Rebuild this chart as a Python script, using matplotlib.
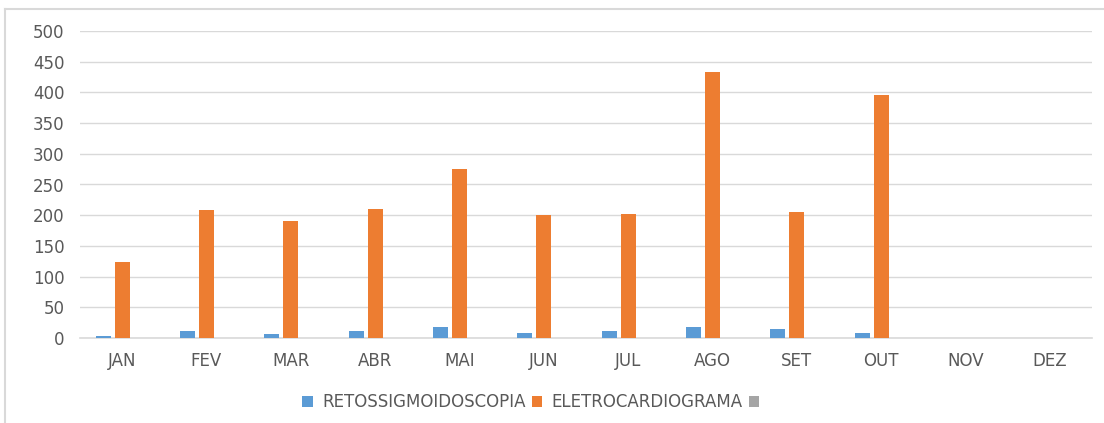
import matplotlib
matplotlib.use("Agg")
import matplotlib.pyplot as plt
import numpy as np
from matplotlib.lines import Line2D

months = ["JAN", "FEV", "MAR", "ABR", "MAI", "JUN", "JUL", "AGO", "SET", "OUT", "NOV", "DEZ"]
retossigmoidoscopia = [3, 11, 6, 11, 18, 8, 11, 18, 14, 8, 0, 0]
eletrocardiograma = [123, 208, 190, 210, 276, 200, 202, 433, 206, 395, 0, 0]
terceira = [0, 0, 0, 0, 0, 0, 0, 0, 0, 0, 0, 0]
series_labels = ["RETOSSIGMOIDOSCOPIA", "ELETROCARDIOGRAMA", " "]
colors = ["#5B9BD5", "#ED7D31", "#A5A5A5"]

plt.rcParams['font.family'] = ['DejaVu Sans']
W, H = 1104, 423
fig = plt.figure(figsize=(W / 100, H / 100), dpi=100)
fig.lines.append(Line2D([5.5 / W, 1.0], [1 - 9 / H, 1 - 9 / H], transform=fig.transFigure,
                        color="#d9d9d9", linewidth=1.5))
fig.lines.append(Line2D([5.5 / W, 5.5 / W], [0, 1 - 9 / H], transform=fig.transFigure,
                        color="#d9d9d9", linewidth=1.5))

ax = fig.add_axes([80 / W, 1 - 338 / H, (1092 - 80) / W, (338 - 31) / H])
x = np.arange(len(months))
bw = 0.18
off = 0.226
for i, (vals, lab, c) in enumerate(zip([retossigmoidoscopia, eletrocardiograma, terceira], series_labels, colors)):
    ax.bar(x + (i - 1) * off, vals, width=bw, color=c, label=lab, zorder=3)

ax.set_xlim(-0.5, len(months) - 0.5)
ax.set_ylim(0, 500)
ax.set_yticks(range(0, 501, 50))
ax.set_xticks(x)
ax.set_xticklabels(months)
ax.grid(axis="y", color="#d9d9d9", linewidth=1, zorder=0)
for s in ["left", "right", "top"]:
    ax.spines[s].set_visible(False)
ax.spines["bottom"].set_color("#d9d9d9")
ax.spines["bottom"].set_linewidth(1.2)
ax.tick_params(axis="both", length=0, colors="#595959", labelsize=12)
ax.tick_params(axis="y", pad=11)
ax.tick_params(axis="x", pad=10)

leg = fig.legend(loc="center", bbox_to_anchor=(538 / W, 1 - 402 / H), ncol=3, frameon=False,
                 handlelength=0.65, handleheight=0.65, handletextpad=0.55, columnspacing=0.35,
                 fontsize=12, labelcolor="#595959")

fig.savefig("out.png", dpi=100)
